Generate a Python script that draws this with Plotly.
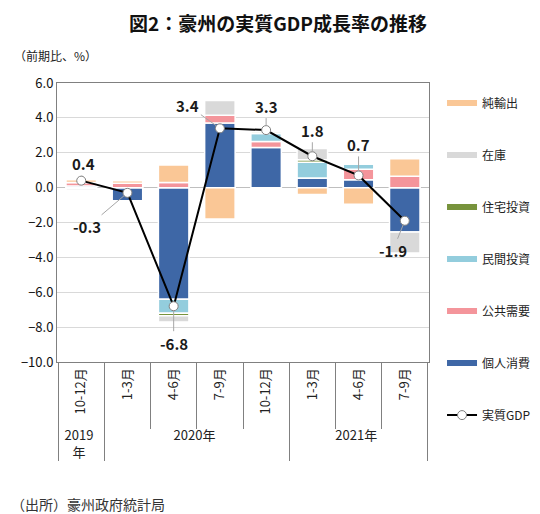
import plotly.graph_objects as go

years = ["2019<br>年", "2020年", "2020年", "2020年", "2020年", "2021年", "2021年", "2021年"]
# the zero-width space keeps the second "10-12月" from being merged with the first
quarters = ["10-12月", "1-3月", "4-6月", "7-9月", "10-12月\u200b", "1-3月\u200b", "4-6月\u200b", "7-9月\u200b"]

kojin = [0.1, -0.75, -6.4, 3.7, 2.3, 0.55, 0.45, -2.55]      # 個人消費
kokyo = [0.2, 0.25, 0.3, 0.45, 0.35, 0.0, 0.6, 0.65]          # 公共需要
minkan = [0.0, 0.0, -0.8, 0.0, 0.45, 0.9, 0.3, 0.0]           # 民間投資
jutaku = [-0.05, 0.0, -0.15, 0.0, 0.1, 0.15, 0.0, 0.0]        # 住宅投資
zaiko = [-0.1, 0.0, -0.35, 0.85, 0.0, 0.65, 0.0, -1.2]        # 在庫
junyu = [0.15, 0.15, 1.0, -1.8, 0.0, -0.4, -0.95, 1.0]        # 純輸出
gdp = [0.4, -0.3, -6.8, 3.4, 3.3, 1.8, 0.7, -1.9]             # 実質GDP

series = [
    ("個人消費", kojin, "#3E67A6"),
    ("公共需要", kokyo, "#F4959B"),
    ("民間投資", minkan, "#93CDDD"),
    ("住宅投資", jutaku, "#77933C"),
    ("在庫", zaiko, "#D9D9D9"),
    ("純輸出", junyu, "#FAC796"),
]

x = [years, quarters]
font = "Noto Sans CJK JP"

fig = go.Figure()
for name, vals, color in series:
    fig.add_trace(go.Bar(
        x=x, y=vals, name=name, marker_color=color,
        marker_line=dict(color="white", width=1.5),
        showlegend=False, hoverinfo="skip"))

# legend entries drawn as thick lines, like the Excel original
for name, vals, color in reversed(series):
    fig.add_trace(go.Scatter(
        x=[None], y=[None], mode="lines", name=name,
        line=dict(color=color, width=6), legendgroup=name))

fig.add_trace(go.Scatter(
    x=x, y=gdp, name="実質GDP", mode="lines+markers", legendgroup="gdp",
    line=dict(color="black", width=2),
    marker=dict(symbol="circle", size=9, color="white",
                line=dict(color="#808080", width=1))))

# data labels with leader lines (offsets in px)
offsets = [(2, -17), (-40, 34), (0, 37), (-32, -23), (0, -24), (0, -26), (0, -31), (-12, 30)]
for i, v in enumerate(gdp):
    ax, ay = offsets[i]
    fig.add_annotation(
        x=[years[i], quarters[i]], y=v, text=f"<b>{v:.1f}</b>",
        showarrow=True, arrowhead=0, arrowwidth=1, arrowcolor="#A6A6A6",
        ax=ax, ay=ay, font=dict(size=15, color="#1a1a1a", family=font),
        standoff=4)

fig.update_layout(
    width=540, height=514,
    barmode="relative", bargap=0.34,
    plot_bgcolor="white", paper_bgcolor="white",
    font=dict(family=font, size=12, color="#222"),
    margin=dict(l=49, r=104, t=75, b=160),
    title=dict(text="<b>図2：豪州の実質GDP成長率の推移</b>", x=0.5, xanchor="center",
               y=0.982, yanchor="top", font=dict(size=19, color="#111")),
    legend=dict(x=1.035, y=0.98, xanchor="left", yanchor="top",
                tracegroupgap=33, font=dict(size=12), itemwidth=30,
                maxheight=600),
    showlegend=True,
)

fig.update_yaxes(
    range=[-10, 6], dtick=2, tickformat=".1f",
    showgrid=True, gridcolor="#D9D9D9", gridwidth=1,
    zeroline=True, zerolinecolor="#BFBFBF", zerolinewidth=1,
    showline=True, linecolor="#808080", mirror=True,
    ticks="", tickfont=dict(size=13, color="#111"))

fig.update_xaxes(
    type="multicategory", tickangle=-90,
    showline=True, linecolor="#808080", mirror=True,
    showdividers=True, dividercolor="#808080", dividerwidth=1,
    tickson="boundaries", ticks="outside", ticklen=66, tickcolor="#808080",
    tickfont=dict(size=13, color="#222"))

fig.add_annotation(x=-0.12, y=1.06, xref="paper", yref="paper", text="（前期比、%）",
                   showarrow=False, xanchor="left", yanchor="bottom",
                   font=dict(size=12, color="#222"))
fig.add_annotation(x=-0.13, y=-0.51, xref="paper", yref="paper", text="（出所）豪州政府統計局",
                   showarrow=False, xanchor="left", yanchor="middle",
                   font=dict(size=14, color="#333"))

fig.write_html("out.html")
